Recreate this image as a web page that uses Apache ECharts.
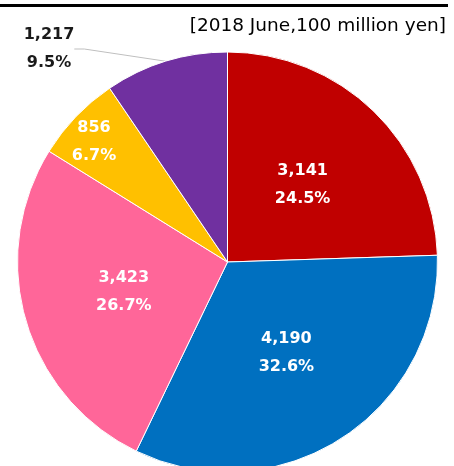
<!DOCTYPE html>
<html>
<head>
<meta charset="utf-8">
<script src="https://cdn.jsdelivr.net/npm/echarts@6/dist/echarts.min.js"></script>
<style>
  html, body { margin: 0; padding: 0; background: #fff; }
  #chart { width: 454px; height: 466px; }
</style>
</head>
<body>
<div id="chart"></div>
<script>
// segment order: clockwise from 12 o'clock
const names = ["A", "B", "C", "D", "E"];
const values = [3141, 4190, 3423, 856, 1217];
const percents = ["24.5", "32.6", "26.7", "6.7", "9.5"];
const colors = ["#C00000", "#0070C0", "#FF6699", "#FFC000", "#7030A0"];
const unitText = "[2018 June,100 million yen]";

function withComma(n) {
  return String(n).replace(/\B(?=(\d{3})+(?!\d))/g, ",");
}

const chart = echarts.init(document.getElementById("chart"));

const pieData = values.map(function (v, i) {
  const item = { name: names[i], value: v, itemStyle: { color: colors[i] } };
  if (i === 4) {
    // purple one has its label outside with a leader line
    item.label = { position: "outside", color: "#1a1a1a" };
    item.labelLine = { show: true };
  }
  return item;
});

const option = {
  animation: false,
  textStyle: { fontFamily: "DejaVu Sans" },
  title: {
    text: unitText,
    right: 3,
    top: 12,
    textStyle: { fontSize: 18.5, fontWeight: "normal", color: "#000", fontFamily: "DejaVu Sans" },
  },
  graphic: [
    {
      type: "rect",
      shape: { x: 0, y: 4, width: 448, height: 3 },
      style: { fill: "#000" },
    },
  ],
  series: [
    {
      type: "pie",
      center: [227.5, 262],
      radius: 210,
      startAngle: 90,
      clockwise: true,
      avoidLabelOverlap: false,
      itemStyle: { borderColor: "#fff", borderWidth: 1 },
      label: {
        show: true,
        position: "inside",
        color: "#fff",
        fontSize: 16,
        fontWeight: "bold",
        fontFamily: "DejaVu Sans",
        lineHeight: 28,
        align: "center",
        formatter: function (p) {
          return withComma(p.value) + "\n" + percents[p.dataIndex] + "%";
        },
      },
      labelLine: {
        show: false,
        length: 10,
        length2: 10,
        lineStyle: { color: "#bfbfbf", width: 1 },
      },
      labelLayout: function (p) {
        if (p.dataIndex === 3) {
          return { x: 94, y: 142, align: "center", verticalAlign: "middle" };
        }
        if (p.dataIndex === 4) {
          return { x: 49, y: 49, align: "center", verticalAlign: "middle" };
        }
        return {};
      },
      data: pieData,
    },
  ],
};

chart.setOption(option);
</script>
</body>
</html>
